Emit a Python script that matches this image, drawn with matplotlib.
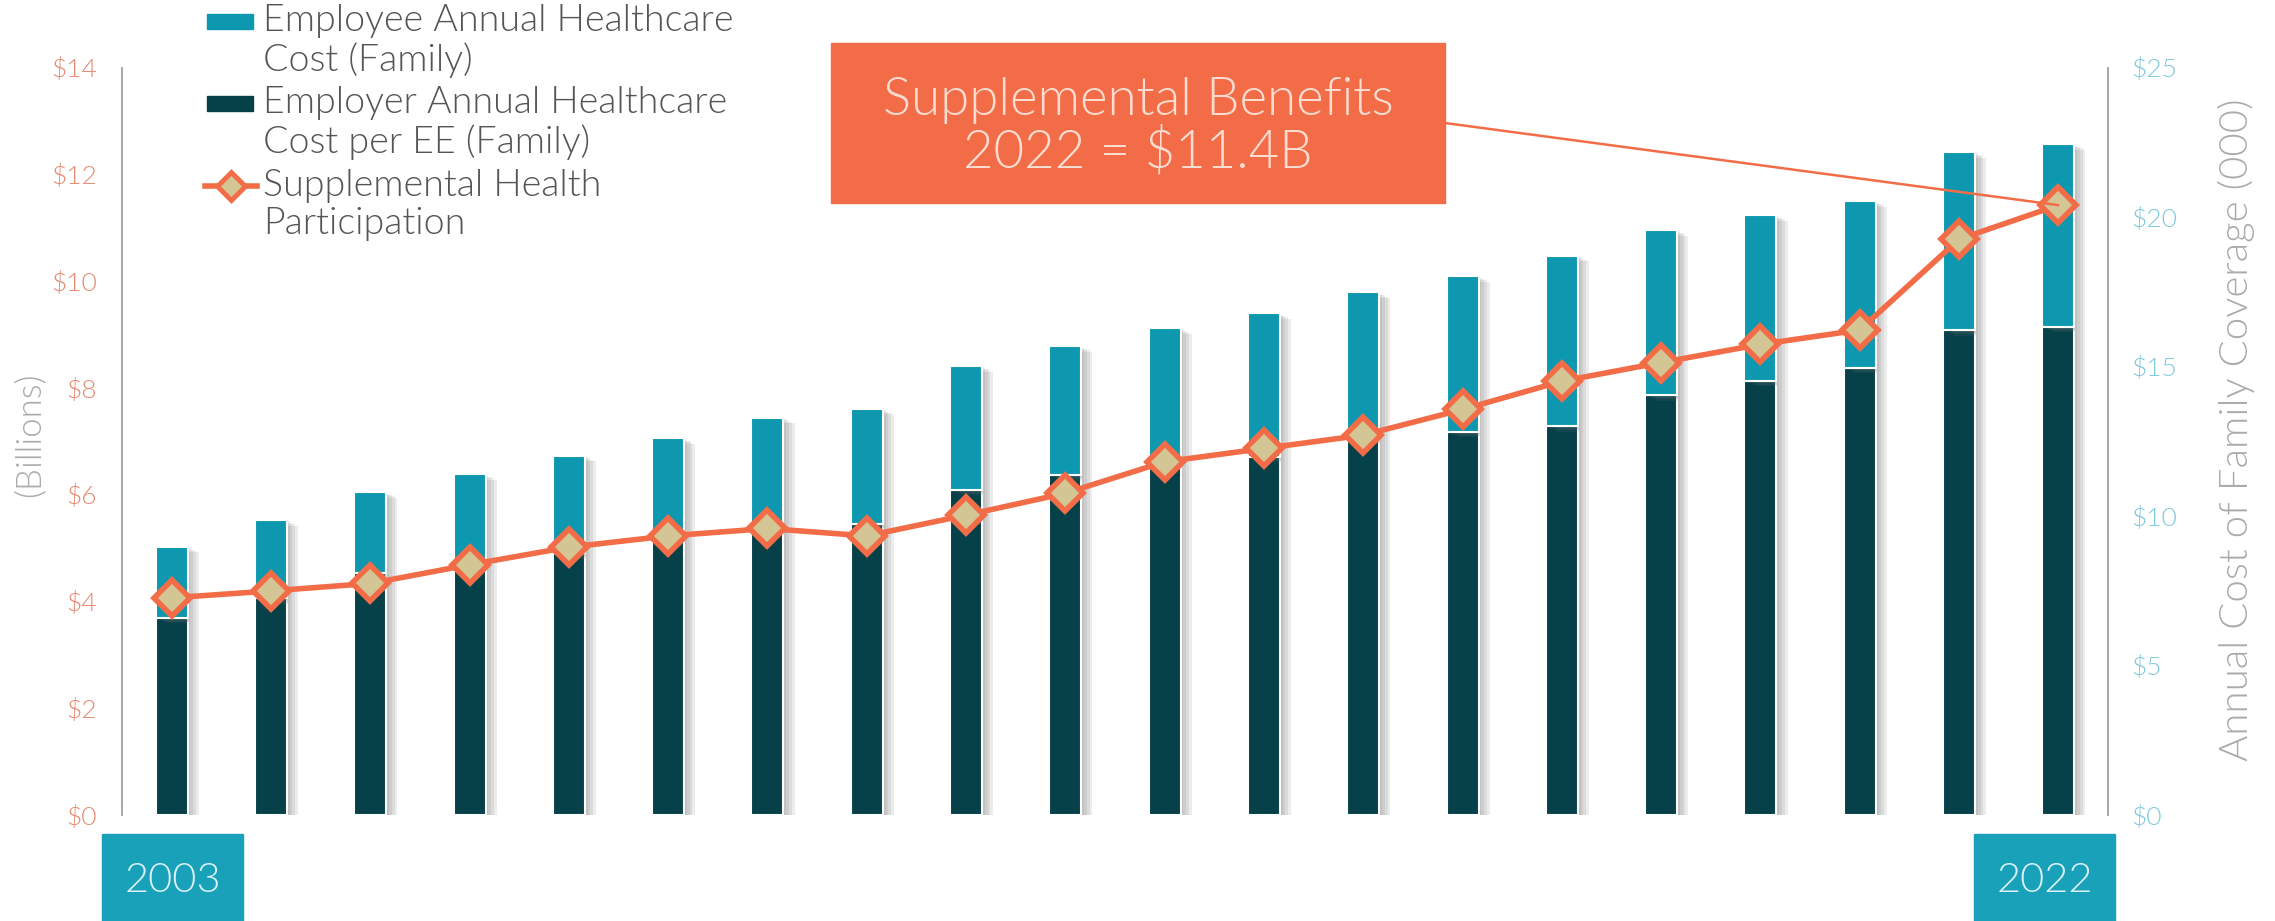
import numpy as np
import matplotlib
matplotlib.use("Agg")
import matplotlib.pyplot as plt
from matplotlib import patheffects
from matplotlib.patches import Rectangle
from matplotlib.lines import Line2D

# donnees
years = [str(y) for y in range(2003, 2023)]
employer_cost = [6.60, 7.25, 8.11, 8.50, 8.76, 9.33, 9.81, 9.73, 10.89, 11.38,
                 11.79, 11.99, 12.59, 12.83, 13.02, 14.05, 14.54, 14.97, 16.23, 16.34]
employee_cost = [2.38, 2.62, 2.69, 2.91, 3.27, 3.28, 3.49, 3.86, 4.13, 4.31,
                 4.51, 4.80, 4.90, 5.21, 5.70, 5.53, 5.53, 5.58, 5.96, 6.11]
supplemental = [4.07, 4.20, 4.34, 4.69, 5.02, 5.23, 5.37, 5.23, 5.62, 6.03,
                6.62, 6.87, 7.12, 7.60, 8.13, 8.48, 8.82, 9.09, 10.79, 11.43]
left_ticks = [0, 2, 4, 6, 8, 10, 12, 14]
right_ticks = [0, 5, 10, 15, 20, 25]
legend_labels = ["Employee Annual Healthcare\nCost (Family)",
                 "Employer Annual Healthcare\nCost per EE (Family)",
                 "Supplemental Health\nParticipation"]
callout = "Supplemental Benefits\n2022 = $11.4B"

TEAL = "#0E98B0"
DARK = "#064049"
ORANGE = "#F26D47"
TAN = "#D4C594"
LEFT_TXT = "#E58A72"
RIGHT_TXT = "#7FC9DC"
GREY = "#ABABAB"
LEG_TXT = "#555555"
BOX = "#19A1B9"
LIGHT = 300

plt.rcParams['font.family'] = ['Lato', 'DejaVu Sans']

W, H = 2275, 921
fig = plt.figure(figsize=(W / 100, H / 100), dpi=100)


def fx(px):
    return px / W


def fy(py):
    # py mesure depuis le haut de l_image
    return 1 - py / H


ax = fig.add_axes([fx(122), fy(815), fx(2108 - 122), (815 - 68) / H])
ax2 = ax.twinx()
ax.set_zorder(ax2.get_zorder() + 1)
ax.patch.set_visible(False)

x = np.arange(len(years))
# ombre portee douce : plusieurs ombres decalees
shadow = [patheffects.SimplePatchShadow(offset=(o, -o / 2), shadow_rgbFace="#707070", alpha=0.13)
          for o in (8, 6, 4, 2)] + [patheffects.Normal()]
ax2.bar(x, employer_cost, width=0.322, color=DARK, edgecolor="white", linewidth=1.5,
        path_effects=shadow)
ax2.bar(x, employee_cost, bottom=employer_cost, width=0.322, color=TEAL,
        edgecolor="white", linewidth=1.5, path_effects=shadow)

ax.plot(x, supplemental, color=ORANGE, lw=4, marker="D", ms=18, mfc=TAN,
        mec=ORANGE, mew=4, solid_capstyle="round")

ax.set_xlim(-0.5, len(years) - 0.5)
ax.set_ylim(0, 14)
ax2.set_ylim(0, 25)
ax.set_xticks([])
ax.set_yticks(left_ticks)
ax.set_yticklabels([f"${v}" for v in left_ticks], fontweight=LIGHT)
ax2.set_yticks(right_ticks)
ax2.set_yticklabels([f"${v}" for v in right_ticks], fontweight=LIGHT)
ax.tick_params(axis="y", length=0, pad=18, labelsize=19, labelcolor=LEFT_TXT)
ax2.tick_params(axis="y", length=0, pad=17, labelsize=19, labelcolor=RIGHT_TXT)

for a in (ax, ax2):
    for s in ("top", "bottom"):
        a.spines[s].set_visible(False)
    a.spines["left"].set_color("#A6A6A6")
    a.spines["right"].set_color("#A6A6A6")
    a.spines["left"].set_linewidth(1.2)
    a.spines["right"].set_linewidth(1.2)

fig.text(fx(29), fy(435), "(Billions)", rotation=90, ha="center", va="center",
         fontsize=25, color=GREY, fontweight=LIGHT)
fig.text(fx(2236), fy(430), "Annual Cost of Family Coverage (000)", rotation=90,
         ha="center", va="center", fontsize=29, color=GREY, fontweight=LIGHT)

# legende dessinee a la main
fig.patches.append(Rectangle((fx(207), fy(29)), fx(46), 15 / H, color=TEAL,
                             transform=fig.transFigure))
fig.patches.append(Rectangle((fx(207), fy(111)), fx(46), 15 / H, color=DARK,
                             transform=fig.transFigure))
fig.add_artist(Line2D([fx(205), fx(257)], [fy(186), fy(186)], color=ORANGE, lw=4,
                      transform=fig.transFigure))
fig.add_artist(Line2D([fx(231)], [fy(186)], marker="D", ms=14, mfc=TAN, mec=ORANGE,
                      mew=3.5, transform=fig.transFigure))
for lab, yc in zip(legend_labels, [41, 123, 205]):
    fig.text(fx(263), fy(yc), lab, ha="left", va="center", fontsize=27,
             color=LEG_TXT, linespacing=1.12, fontweight=LIGHT)

# encadre
fig.patches.append(Rectangle((fx(831), fy(203)), fx(1445 - 831), (203 - 43.5) / H,
                             color=ORANGE, transform=fig.transFigure))
fig.text(fx(1138), fy(127), callout, ha="center", va="center", fontsize=38,
         color="#FCDCD0", linespacing=1.05, fontweight=LIGHT)
ax.annotate("", xy=(x[-1], supplemental[-1]), xytext=(1445, H - 123),
            textcoords="figure pixels",
            arrowprops=dict(arrowstyle="-", color=ORANGE, lw=1.8, shrinkA=0, shrinkB=0),
            annotation_clip=False)

# annees de debut et fin
for left, lab in [(102, years[0]), (1974, years[-1])]:
    fig.patches.append(Rectangle((fx(left), 0), fx(141), 87 / H, color=BOX,
                                 transform=fig.transFigure))
    fig.text(fx(left + 70.5), fy(880), lab, ha="center", va="center", fontsize=30,
             color="#D8F1F5", fontweight=LIGHT)

fig.savefig("out.png", dpi=100)
